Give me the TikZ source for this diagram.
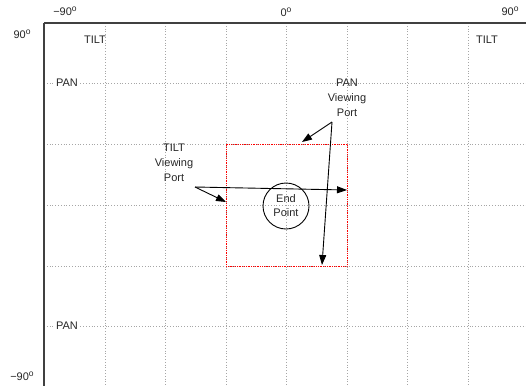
\documentclass[tikz,border=0pt]{standalone}
\usepackage{fontspec}
\setmainfont{Liberation Sans}
\usetikzlibrary{arrows.meta}
\newcommand\degsym{\raisebox{0.33em}{\fontsize{8.5}{8.5}\selectfont o}}
\begin{document}
\begin{tikzpicture}[x=1pt,y=-1pt,
  lbl/.style={font=\fontsize{11}{13}\selectfont, inner sep=1pt, text=black!85},
  grid/.style={gray!70, dotted, line width=0.8pt},
  axis/.style={black!75, line width=1.6pt},
  arr/.style={black, line width=0.9pt, -{Triangle[length=10pt,width=7pt]}},
  port/.style={red, densely dotted, line width=0.8pt}]
\useasboundingbox (0,0) rectangle (526,386);
% grid
\foreach \gx in {105,165.5,226,286.5,347,407.5,468} \draw[grid] (\gx,23) -- (\gx,386);
\foreach \gy in {83,144,205,266,326} \draw[grid] (44,\gy) -- (526,\gy);
% axes
\draw[axis] (44,23) -- (526,23);
\draw[axis] (44,23) -- (44,386);
% axis labels
\node[lbl] (xm) at (65,11) {−90\degsym};
\node[lbl] (x0) at (286,12) {0\degsym};
\node[lbl] (xp) at (510,11) {90\degsym};
\node[lbl] (yp) at (22,34) {90\degsym};
\node[lbl] (ym) at (22,376) {−90\degsym};
% TILT / PAN labels
\node[lbl] (tl) at (95,40) {TILT};
\node[lbl] (tr) at (487,40) {TILT};
\node[lbl, fill=white] (pt) at (67,83) {PAN};
\node[lbl, fill=white] (pb) at (67,326) {PAN};
% viewing port
\node[port, draw, minimum width=121pt, minimum height=122pt, inner sep=0pt] (vp) at (286.5,205) {};
% end point
\node[draw, circle, line width=0.9pt, minimum size=46pt, inner sep=0pt, align=center,
  font=\fontsize{11}{14}\selectfont, text=black!85] (ep) at (286,206) {End\\Point};
% callouts
\node[lbl, align=center, font=\fontsize{11}{15}\selectfont] (pv) at (347,98) {PAN\\Viewing\\Port};
\node[lbl, align=center, font=\fontsize{11}{15}\selectfont] (tv) at (174,163) {TILT\\Viewing\\Port};
\coordinate (pvs) at (332,122);
\coordinate (tvs) at (195,187);
\coordinate (pva) at (302,142);
\coordinate (pvb) at (322,265);
\coordinate (tva) at (226,202);
\coordinate (tvb) at (347,190);
\draw[arr] (pvs) -- (pva);
\draw[arr] (pvs) -- (pvb);
\draw[arr] (tvs) -- (tva);
\draw[arr] (tvs) -- (tvb);
\end{tikzpicture}
\end{document}
